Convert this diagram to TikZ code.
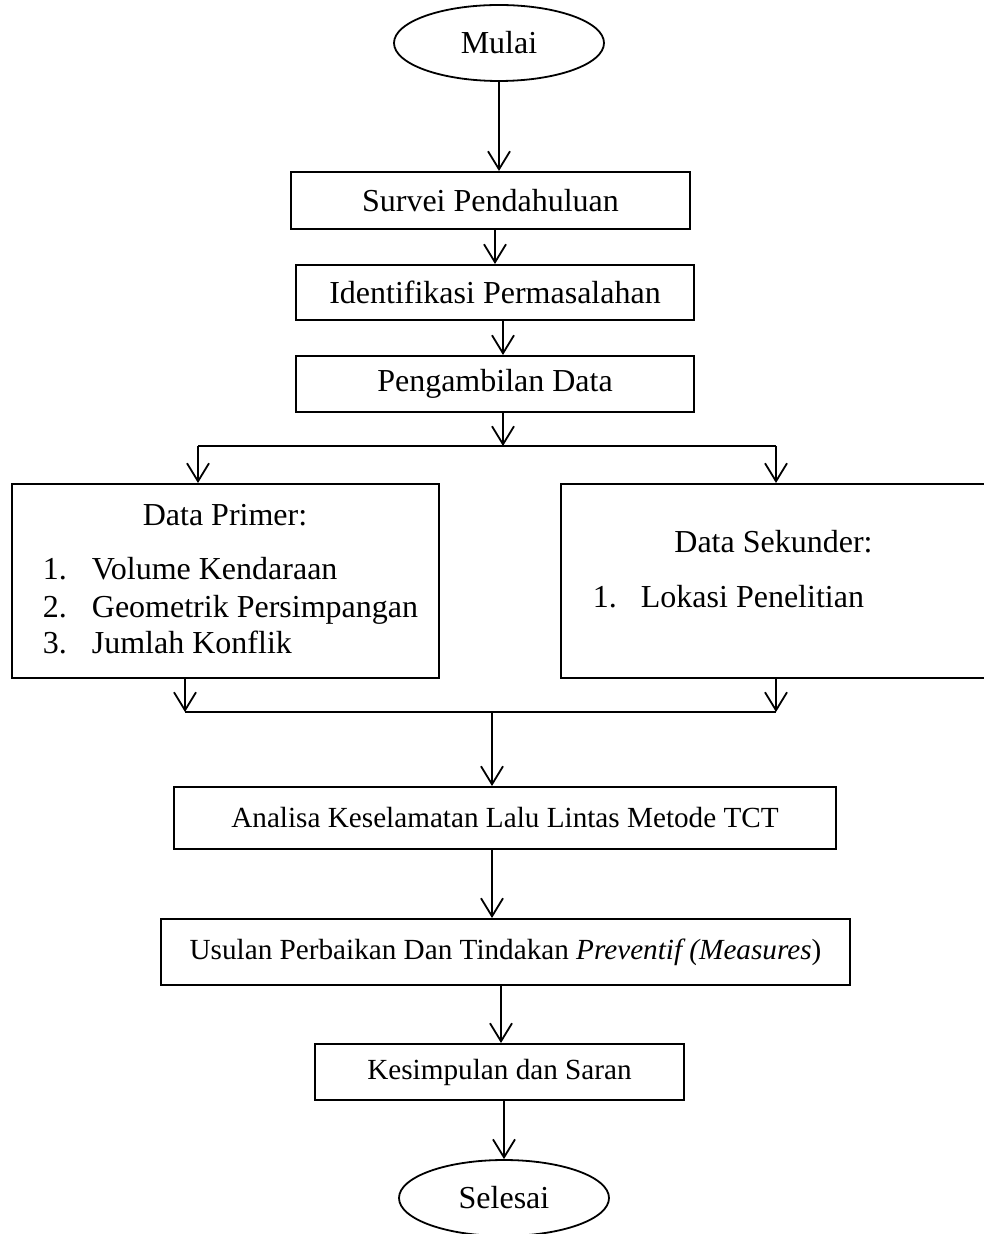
\documentclass[tikz,border=0pt]{standalone}
\usepackage{fontspec}
\setmainfont{Liberation Serif}
\usetikzlibrary{shapes,arrows,arrows.meta}
\tikzset{
kotak/.style={draw,line width=1pt,rectangle,inner sep=0pt,font=\fontsize{14.6}{17}\selectfont},
kotakbesar/.style={kotak,font=\fontsize{16}{19}\selectfont},
oval/.style={draw,line width=0.9pt,ellipse,inner sep=0pt,minimum width=105pt,minimum height=38pt,font=\fontsize{16}{19}\selectfont},
teks/.style={inner sep=0pt,anchor=base west,font=\fontsize{16}{19}\selectfont}
}

\begin{document}
\begin{tikzpicture}[x=0.5pt,y=-0.5pt,>={Straight Barb[length=9pt,width=11pt]},line width=0.9pt]
\useasboundingbox (0,0) rectangle (983,1234);
\node[oval](mulai) at (499,43){Mulai};
\node[kotakbesar,minimum width=199.5pt,minimum height=28.5pt](survei) at (490.5,200.5){Survei Pendahuluan};
\node[kotakbesar,minimum width=199pt,minimum height=27.5pt](identifikasi) at (495,292.5){Identifikasi Permasalahan};
\node[kotakbesar,minimum width=199pt,minimum height=28pt](ambil) at (495,384){Pengambilan Data};
\node[kotak,minimum width=213.5pt,minimum height=97pt](primer) at (225.5,581){};
\node[kotak,minimum width=213.5pt,minimum height=97pt](sekunder) at (774.5,581){};
\node[teks,anchor=base](judulprimer) at (225,525){Data Primer:};
\foreach \y/\t [count=\n] in {579/Volume Kendaraan,617/Geometrik Persimpangan,653/Jumlah Konflik}{
\node[teks](nomorprimer\n) at (42,\y){\n.};
\node[teks](isiprimer\n) at (91,\y){\t};}
\node[teks,anchor=base](judulsekunder) at (773.5,552){Data Sekunder:};
\node[teks](nomorsekunder1) at (592,607){1.};
\node[teks](isisekunder1) at (640,607){Lokasi Penelitian};
\node[kotak,minimum width=331pt,minimum height=31pt](analisa) at (505,818){Analisa Keselamatan Lalu Lintas Metode TCT};
\node[kotak,minimum width=344.5pt,minimum height=33pt](usulan) at (505.5,952){Usulan Perbaikan Dan Tindakan \textit{Preventif (Measures})};
\node[kotak,minimum width=184.5pt,minimum height=28pt](kesimpulan) at (499.5,1072){Kesimpulan dan Saran};
\node[oval](selesai) at (504,1198){Selesai};
% percabangan
\coordinate (bagi) at (503,446);
\coordinate (kiri) at (198,446);
\coordinate (kanan) at (776,446);
\coordinate (gkiri) at (185,712);
\coordinate (gkanan) at (776,712);
\coordinate (gabung) at (492,712);
\coordinate (turun) at (501,1000);
\draw[->](mulai)--(mulai|-survei.north);
\draw[->](identifikasi.north|-survei.south)--(identifikasi.north);
\draw[->](bagi|-identifikasi.south)--(bagi|-ambil.north);
\draw[->](bagi|-ambil.south)--(bagi);
\draw(kiri)--(kanan);
\draw[->](kiri)--(kiri|-primer.north);
\draw[->](kanan)--(kanan|-sekunder.north);
\draw[->](gkiri|-primer.south)--(gkiri);
\draw[->](gkanan|-sekunder.south)--(gkanan);
\draw(gkiri)--(gkanan);
\draw[->](gabung)--(gabung|-analisa.north);
\draw[->](gabung|-analisa.south)--(gabung|-usulan.north);
\draw[->](turun|-usulan.south)--(turun|-kesimpulan.north);
\draw[->](selesai.north|-kesimpulan.south)--(selesai.north);
\end{tikzpicture}
\end{document}
